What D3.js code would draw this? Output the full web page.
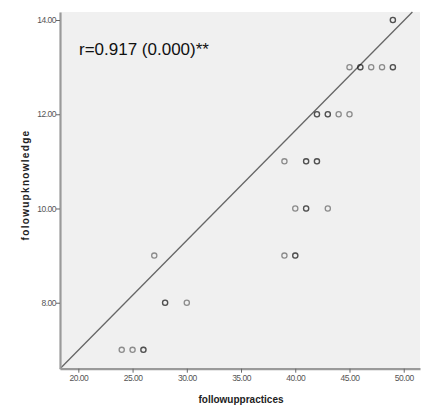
<!DOCTYPE html>
<html>
<head>
<meta charset="utf-8">
<script src="https://cdn.jsdelivr.net/npm/d3@7/dist/d3.min.js"></script>
<style>
  html, body { margin: 0; padding: 0; background: #fff; }
  svg { display: block; }
</style>
</head>
<body>
<svg id="chart" width="425" height="408"></svg>
<script>
// Data (followuppractices, followupknowledge); repeated pairs = overlapping cases
const practices = [49, 49, 45, 46, 46, 47, 48, 49, 49, 42, 42, 43, 43, 44, 45, 39, 41, 41, 42, 42, 40, 41, 41, 43, 27, 39, 40, 40, 28, 28, 30, 24, 25, 26, 26];
const knowledge = [14, 14, 13, 13, 13, 13, 13, 13, 13, 12, 12, 12, 12, 12, 12, 11, 11, 11, 11, 11, 10, 10, 10, 10, 9, 9, 9, 9, 8, 8, 8, 7, 7, 7, 7];
const xTicks = [20, 25, 30, 35, 40, 45, 50];
const yTicks = [8, 10, 12, 14];
const xDomain = [18.31, 51.5];
const yDomain = [6.6, 14.17];
const fitLine = [[18.31, 6.6], [50.8, 14.17]];
const annotation = "r=0.917 (0.000)**";
const xTitle = "followuppractices";
const yTitle = "folowupknowledge";

(function () {
const svg = d3.select("#chart");
const pLeft = 60, pRight = 420, pTop = 12, pBottom = 368.7;

const x = d3.scaleLinear().domain(xDomain).range([pLeft, pRight]);
const y = d3.scaleLinear().domain(yDomain).range([pBottom, pTop]);

svg.append("rect")
  .attr("x", pLeft).attr("y", pTop)
  .attr("width", pRight - pLeft).attr("height", pBottom - pTop)
  .attr("fill", "#f0f0f0");

// fit line
svg.append("line")
  .attr("x1", x(fitLine[0][0])).attr("y1", y(fitLine[0][1]))
  .attr("x2", x(fitLine[1][0])).attr("y2", y(fitLine[1][1]))
  .attr("stroke", "#666").attr("stroke-width", 1.3);

// points
const pts = practices.map((p, i) => [p, knowledge[i]]);
svg.append("g").selectAll("circle").data(pts).join("circle")
  .attr("cx", d => x(d[0])).attr("cy", d => y(d[1]))
  .attr("r", 2.6)
  .attr("fill", "none")
  .attr("stroke", "#000")
  .attr("stroke-opacity", 0.42)
  .attr("stroke-width", 1.3);

// axes
const xAxis = d3.axisBottom(x).tickValues(xTicks).tickFormat(d3.format(".2f")).tickSize(4).tickSizeOuter(0);
const yAxis = d3.axisLeft(y).tickValues(yTicks).tickFormat(d3.format(".2f")).tickSize(4).tickSizeOuter(0);

const gx = svg.append("g").attr("transform", `translate(0,${pBottom})`).call(xAxis);
const gy = svg.append("g").attr("transform", `translate(${pLeft},0)`).call(yAxis);

[gx, gy].forEach(g => {
  g.select(".domain").attr("stroke", "#9a9a9a").attr("stroke-width", 2.2);
  g.selectAll(".tick line").attr("stroke", "#666").attr("stroke-width", 1);
  g.selectAll(".tick text")
    .attr("fill", "#555")
    .style("font-family", "'Liberation Sans', Arial, sans-serif")
    .style("font-size", "8.5px")
    .style("letter-spacing", "-0.5px");
});
gx.selectAll(".tick text").attr("dy", "0.9em").attr("y", 5);
gy.selectAll(".tick text").attr("x", -4).attr("dy", "0.32em");

// annotation
svg.append("text")
  .attr("x", 79).attr("y", 55)
  .attr("fill", "#111")
  .style("font-family", "'Liberation Sans', Arial, sans-serif")
  .style("font-size", "17px")
  .text(annotation);

// axis titles
svg.append("text")
  .attr("x", 241).attr("y", 403)
  .attr("text-anchor", "middle")
  .attr("fill", "#222")
  .style("font-family", "'Liberation Sans', Arial, sans-serif")
  .style("font-size", "10px")
  .style("font-weight", "bold")
  .text(xTitle);

svg.append("text")
  .attr("transform", "translate(29,185) rotate(-90)")
  .attr("text-anchor", "middle")
  .attr("fill", "#222")
  .style("font-family", "'Liberation Sans', Arial, sans-serif")
  .style("font-size", "10px")
  .style("font-weight", "bold")
  .style("letter-spacing", "1.3px")
  .text(yTitle);
})();
</script>
</body>
</html>
